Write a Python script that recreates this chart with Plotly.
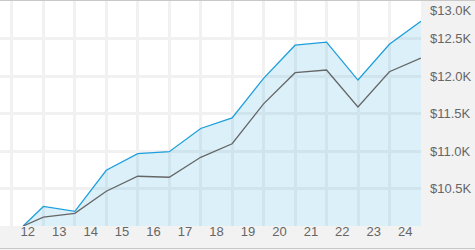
import plotly.graph_objects as go

# ---- data ----
dates = ["2012-05-10", "2012-12-31", "2013-12-31", "2014-12-31", "2015-12-31",
         "2016-12-31", "2017-12-31", "2018-12-31", "2019-12-31", "2020-12-31",
         "2021-12-31", "2022-12-31", "2023-12-31", "2024-12-31"]
fund = [10000, 10261, 10195, 10743, 10965, 10991, 11300, 11442,
        11968, 12411, 12451, 11946, 12424, 12730]
benchmark = [10000, 10119, 10168, 10464, 10663, 10650, 10916, 11097,
             11628, 12044, 12080, 11588, 12057, 12239]
y_tick_vals = [10500, 11000, 11500, 12000, 12500]
y_tick_text = ["$10.5K", "$11.0K", "$11.5K", "$12.0K", "$12.5K"]
y_top_label = "$13.0K"

BLUE = "#1e9fdc"
GRAY = "#666666"
FONT = "Arial, Liberation Sans, sans-serif"
FS = 13

fig = go.Figure()
fig.add_trace(go.Scatter(x=dates, y=fund, mode="lines",
                         line=dict(color=BLUE, width=1.3),
                         fill="tozeroy", fillcolor="rgba(30,159,220,0.16)",
                         hoverinfo="skip"))
fig.add_trace(go.Scatter(x=dates, y=benchmark, mode="lines",
                         line=dict(color=GRAY, width=1.3),
                         hoverinfo="skip"))

W, H = 475, 250
ml, mr, mt, mb = 0, 54, 1, 24
ph = H - mt - mb

fig.update_layout(
    width=W, height=H,
    margin=dict(l=ml, r=mr, t=mt, b=mb, pad=0),
    paper_bgcolor="#f2f2f2",
    plot_bgcolor="#ffffff",
    showlegend=False,
    font=dict(family=FONT, size=FS, color="#666666"),
    xaxis=dict(
        type="date",
        range=["2011-08-15", "2025-01-01"],
        dtick="M12", tick0="2012-01-01",
        tickformat="%y", ticklabelmode="period",
        showgrid=True, gridcolor="#f1f1f1", gridwidth=2.5,
        zeroline=False, showline=False,
        ticks="", ticklabelstandoff=-4,
        tickfont=dict(size=FS, color="#666666"),
        fixedrange=True,
    ),
    yaxis=dict(
        range=[10000, 13000],
        side="right",
        tickvals=y_tick_vals, ticktext=y_tick_text,
        showgrid=True, gridcolor="#f1f1f1", gridwidth=2.5,
        zeroline=False, showline=False,
        ticks="", ticklabelstandoff=8,
        tickfont=dict(size=FS, color="#666666"),
        fixedrange=True,
    ),
    shapes=[
        dict(type="line", xref="paper", yref="paper",
             x0=-0.01, x1=1.2, y0=1 + 0.5 / ph, y1=1 + 0.5 / ph,
             line=dict(color="#c8c8c8", width=1)),
        dict(type="line", xref="paper", yref="paper",
             x0=-0.01, x1=1.2, y0=-(248.5 - (H - mb)) / ph, y1=-(248.5 - (H - mb)) / ph,
             line=dict(color="#c8c8c8", width=1)),
    ],
    annotations=[
        dict(text=y_top_label, xref="paper", yref="paper",
             x=1, y=1 - 10 / ph, xanchor="left", yanchor="middle",
             xshift=7, showarrow=False,
             font=dict(size=FS, color="#666666", family=FONT)),
    ],
)

fig.write_html("out.html", config={"displayModeBar": False})
